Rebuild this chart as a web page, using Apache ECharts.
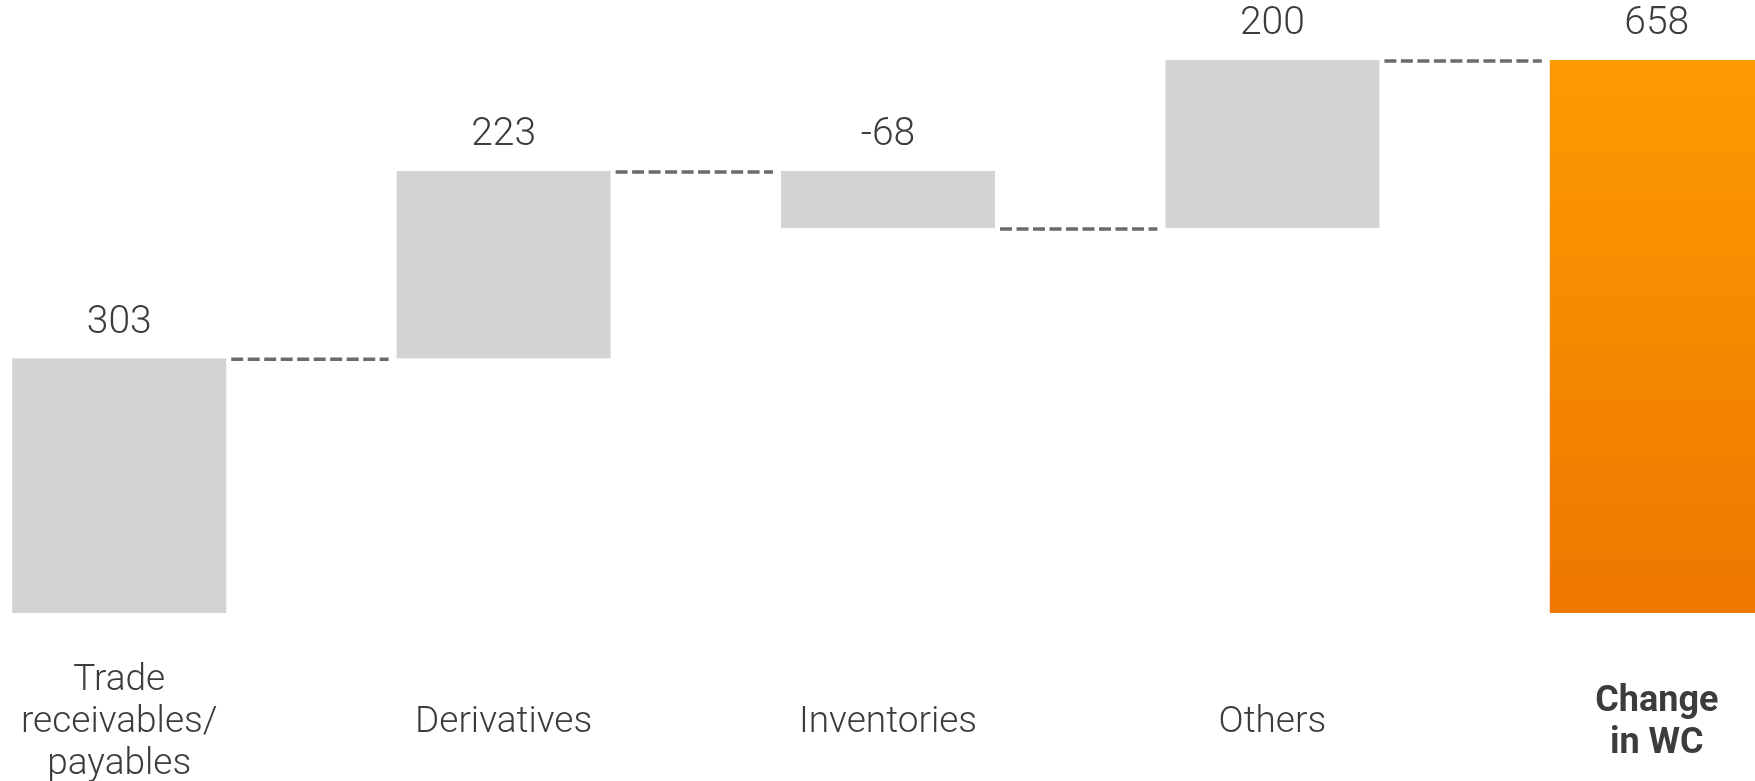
<html>
<head>
    <meta charset="utf-8">
    <script src="https://cdn.jsdelivr.net/npm/echarts@6.0.0/dist/echarts.min.js"></script>
    <style>
        html, body { margin: 0; padding: 0; background: #fff; overflow: hidden; width: 1755px; height: 781px; }
        #main { position: absolute; left: -73px; top: 0; }
    </style>
</head>
<body>
<div id="main" style="width: 1922px;height:781px;"></div>
<script>
    // data
    var categories = ['Trade\nreceivables/\npayables', 'Derivatives', 'Inventories', 'Others', 'Change\nin WC'];
    var deltas = [303, 223, -68, 200];
    var total = 658;

    // waterfall: invisible base + visible part
    var baseVals = [];
    var barVals = [];
    var levels = [];
    var running = 0;
    deltas.forEach(function (d) {
        var next = running + d;
        baseVals.push(Math.min(running, next));
        barVals.push(Math.abs(d));
        running = next;
        levels.push(running);
    });
    baseVals.push(0);
    barVals.push(total);
    var labelVals = deltas.concat([total]);

    var barW = 214;
    var textColor = '#3c3c3c';

    var xData = categories.map(function (c, i) {
        if (i === categories.length - 1) {
            return {
                value: c,
                textStyle: {
                    fontWeight: 'bold', fontSize: 36, lineHeight: 42,
                    verticalAlign: 'middle', fontFamily: 'Roboto', color: textColor
                }
            };
        }
        return c;
    });

    var barData = barVals.map(function (v, i) {
        if (i === barVals.length - 1) {
            return {
                value: v,
                itemStyle: {
                    color: new echarts.graphic.LinearGradient(0, 0, 0, 1, [
                        {offset: 0, color: '#fd9a00'},
                        {offset: 1, color: '#ee7700'}
                    ])
                }
            };
        }
        return v;
    });

    var myChart = echarts.init(document.getElementById('main'));
    var option = {
        animation: false,
        grid: {left: 0, right: 0, top: 60, bottom: 168, outerBoundsMode: 'none', containLabel: false},
        xAxis: {
            type: 'category',
            data: xData,
            axisLine: {show: false},
            axisTick: {show: false},
            axisLabel: {
                interval: 0,
                margin: 110,
                verticalAlign: 'middle',
                fontFamily: 'Roboto',
                fontWeight: 300,
                fontSize: 37,
                lineHeight: 42,
                color: textColor
            }
        },
        yAxis: {
            type: 'value',
            min: 0,
            max: 'dataMax',
            show: false,
            splitLine: {show: false}
        },
        series: [
            {
                type: 'bar',
                stack: 'wf',
                barWidth: barW,
                itemStyle: {color: 'transparent'},
                data: baseVals,
                silent: true
            },
            {
                type: 'bar',
                stack: 'wf',
                barWidth: barW,
                itemStyle: {color: '#d3d3d3'},
                data: barData,
                label: {
                    show: true,
                    position: 'top',
                    distance: 16,
                    fontFamily: 'Roboto',
                    fontWeight: 300,
                    fontSize: 39,
                    color: textColor,
                    formatter: function (p) {
                        return labelVals[p.dataIndex];
                    }
                }
            },
            {
                type: 'custom',
                data: levels.map(function (l, i) { return [i, l]; }),
                encode: {x: 0, y: 1},
                clip: false,
                renderItem: function (params, api) {
                    var p = api.coord([api.value(0), api.value(1)]);
                    var band = api.size([1, 0])[0];
                    return {
                        type: 'line',
                        shape: {
                            x1: p[0] + barW / 2 + 5,
                            y1: p[1] + 1,
                            x2: p[0] + band - barW / 2 - 8,
                            y2: p[1] + 1
                        },
                        style: {stroke: '#6b6b6b', lineWidth: 3.5, lineDash: [12, 4.5]}
                    };
                }
            }
        ]
    };
    myChart.setOption(option);
</script>
</body>
</html>
